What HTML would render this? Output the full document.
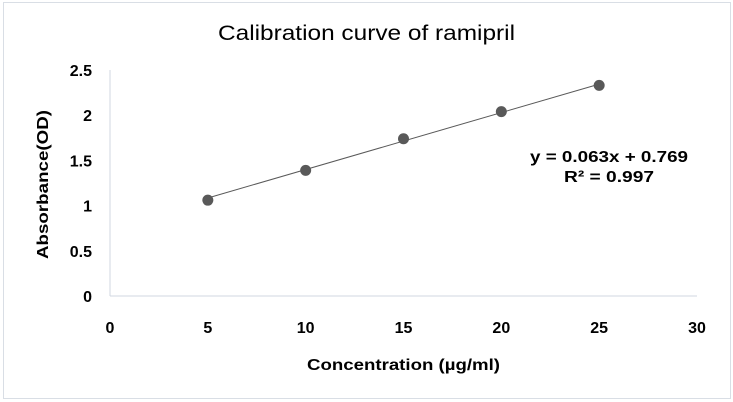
<!DOCTYPE html>
<html><head><meta charset="utf-8"><style>
html,body{margin:0;padding:0;background:#fff;}
svg{display:block;font-family:"Liberation Sans",Arial,sans-serif;}
</style></head><body>
<svg width="733" height="402">
<rect x="3.5" y="2.5" width="727" height="396" fill="#fff" stroke="#d9dee5"/>
<text x="218" y="40" font-size="21" textLength="297" lengthAdjust="spacingAndGlyphs" fill="#000">Calibration curve of ramipril</text>
<g id="axes"></g>
<g id="marks"></g>
<text x="307" y="370" font-size="16" font-weight="bold" textLength="193" lengthAdjust="spacingAndGlyphs" fill="#000">Concentration (µg/ml)</text>
<text transform="translate(48,259) rotate(-90)" font-size="16" font-weight="bold" textLength="149" lengthAdjust="spacingAndGlyphs" fill="#000">Absorbance(OD)</text>
<text x="530" y="162" font-size="16" font-weight="bold" textLength="158" lengthAdjust="spacingAndGlyphs" fill="#000">y = 0.063x + 0.769</text>
<text x="564" y="182" font-size="16" font-weight="bold" textLength="90" lengthAdjust="spacingAndGlyphs" fill="#000">R² = 0.997</text>
</svg>
<script>
const xValues=[5,10,15,20,25];
const yValues=[1.06,1.39,1.74,2.04,2.33];
const xTicks=[0,5,10,15,20,25,30];
const yTicks=[0,0.5,1,1.5,2,2.5];
const slope=[0.063];
const intercept=[0.769];
const NS="http://www.w3.org/2000/svg";
const X0=110,X1=697,Y0=296,Y1=70;
function sx(v){return X0+(v-0)/(30-0)*(X1-X0);}
function sy(v){return Y0-(v-0)/(2.5-0)*(Y0-Y1);}
function mk(tag,attrs,parent,text){const e=document.createElementNS(NS,tag);for(const k in attrs)e.setAttribute(k,attrs[k]);if(text!==undefined)e.textContent=text;parent.appendChild(e);return e;}
const axes=document.getElementById('axes'),marks=document.getElementById('marks');
let e;
e=mk('line',{x1:X0,y1:Y1,x2:X0,y2:Y0,stroke:'#d0d7e0','stroke-width':1},axes);


e=mk('line',{x1:X0,y1:Y0,x2:X1,y2:Y0,stroke:'#d0d7e0','stroke-width':1},axes);


xTicks.forEach(t=>{
 e=mk('text',{x:sx(t),y:Y0+37,'text-anchor':'middle','font-size':16,'font-weight':'bold',fill:'#000'},axes,String(t));
 
 
});
yTicks.forEach(t=>{
 e=mk('text',{x:X0-18,y:sy(t)+6,'text-anchor':'end','font-size':16,'font-weight':'bold',fill:'#000'},axes,String(t));
 
 
});
const xa=xValues[0],xb=xValues[xValues.length-1];
e=mk('line',{x1:sx(xa),y1:sy(slope[0]*xa+intercept[0]),x2:sx(xb),y2:sy(slope[0]*xb+intercept[0]),stroke:'#595959','stroke-width':1},marks);


xValues.forEach((x,i)=>{
 e=mk('circle',{cx:sx(x),cy:sy(yValues[i]),r:5.5,fill:'#595959'},marks);
 
 
});
</script>
</body></html>
